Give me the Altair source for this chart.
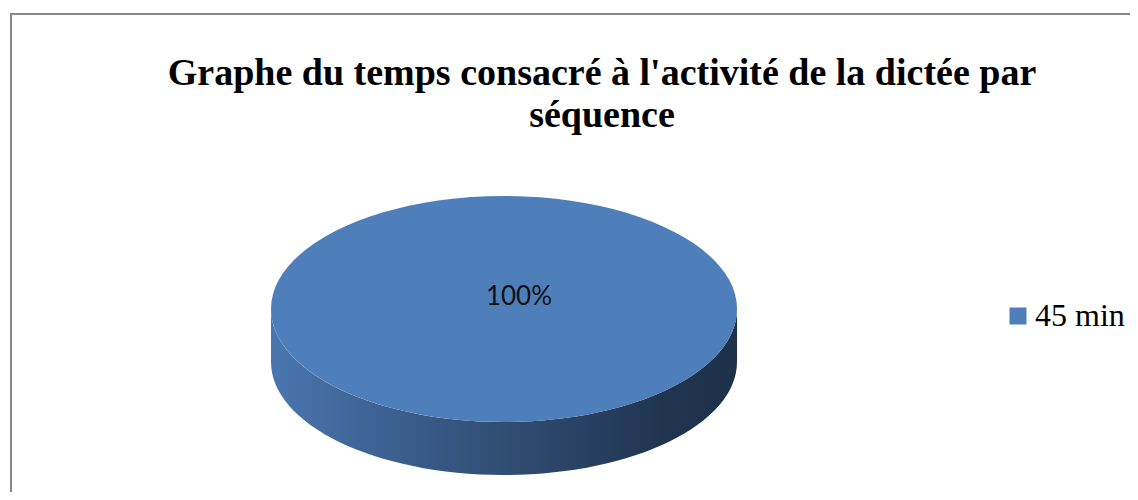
import altair as alt
import pandas as pd

# ---- data ----
categories = ["45 min"]
values = [100]
title_lines = ["Graphe du temps consacré à l'activité de la dictée par", "séquence"]

labels = [f"{v}%" for v in values]
df = pd.DataFrame({"category": categories, "value": values, "label": labels})

# ---- styling ----
TOP_COLOR = "#4E7FBA"
BORDER = "#888888"
RX_PX = 233          # horizontal radius of the pie (px)
RY = 0.485           # vertical/horizontal ratio of the tilted disc
DEPTH = 0.2275       # thickness relative to the horizontal radius

ellipse_path = f"M -1 0 A 1 {RY} 0 1 1 1 0 A 1 {RY} 0 1 1 -1 0 Z"
side_path = (f"M -1 0 L -1 {DEPTH} A 1 {RY} 0 0 0 1 {DEPTH} "
             f"L 1 0 A 1 {RY} 0 0 1 -1 0 Z")
sym_size = (2 * RX_PX) ** 2

CX, CY = 496, 301

base = alt.Chart(df)

border_v = base.mark_rule(color=BORDER, strokeWidth=2).encode(
    x=alt.value(3), y=alt.value(5), y2=alt.value(484))
border_h = base.mark_rule(color=BORDER, strokeWidth=2).encode(
    x=alt.value(2), x2=alt.value(1122), y=alt.value(6))

side = base.mark_point(
    shape=side_path, filled=True, opacity=1, strokeWidth=0,
    fill=alt.LinearGradient(
        gradient="linear", x1=0, x2=1, y1=0, y2=0,
        stops=[alt.GradientStop(color="#4A76B0", offset=0),
               alt.GradientStop(color="#3A5C8A", offset=0.3),
               alt.GradientStop(color="#2C4669", offset=0.6),
               alt.GradientStop(color="#20344F", offset=0.85),
               alt.GradientStop(color="#1E314B", offset=1)])
).encode(x=alt.value(CX), y=alt.value(CY), size=alt.value(sym_size))

top = base.mark_point(
    shape=ellipse_path, filled=True, opacity=1, strokeWidth=0
).encode(
    x=alt.value(CX), y=alt.value(CY), size=alt.value(sym_size),
    color=alt.Color(
        "category:N",
        scale=alt.Scale(domain=categories, range=[TOP_COLOR]),
        legend=alt.Legend(
            title=None, orient="none", legendX=994, legendY=292,
            symbolType="square", symbolSize=289, symbolStrokeWidth=0,
            symbolOpacity=1, labelFont="Liberation Serif", labelFontSize=32,
            labelColor="black", labelOffset=1, padding=0, labelLimit=300)))

pct = base.mark_text(
    font="Lato", fontSize=26, color="#111111", align="center",
    baseline="alphabetic"
).encode(x=alt.value(511), y=alt.value(297), text="label:N")

title = alt.Chart(pd.DataFrame({"t": [title_lines]})).mark_text(
    font="Liberation Serif", fontSize=38, fontWeight="bold", color="black",
    align="center", baseline="alphabetic", lineHeight=42
).encode(x=alt.value(594), y=alt.value(77), text="t")

chart = alt.layer(border_v, border_h, side, top, pct, title).properties(
    width=1122, height=484, padding=0,
    autosize=alt.AutoSizeParams(type="fit", contains="padding")
).configure_view(stroke=None)

chart.save("out.html", embed_options={"renderer": "svg", "actions": False})
